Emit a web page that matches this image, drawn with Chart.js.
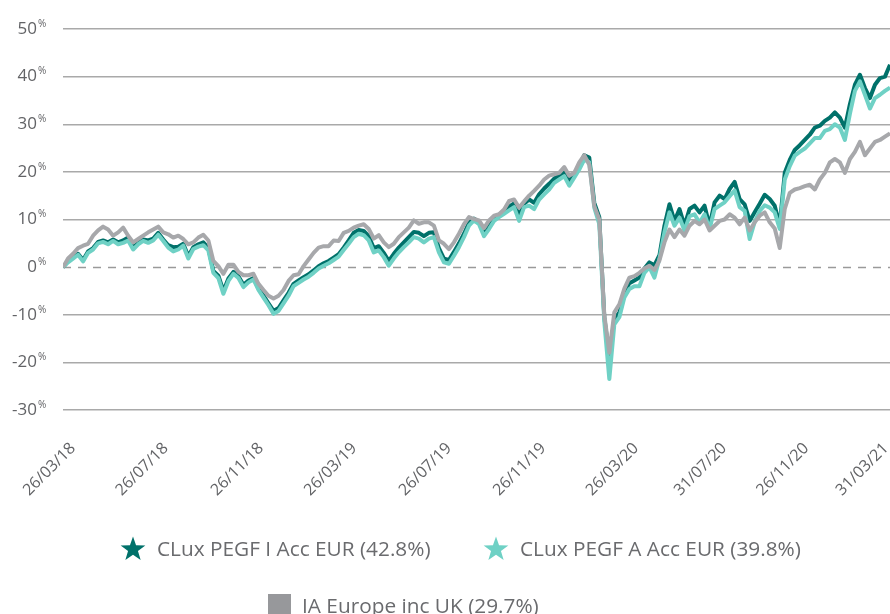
<!DOCTYPE html>
<html><head><meta charset="utf-8">
<script src="https://cdn.jsdelivr.net/npm/chart.js@4.4.1/dist/chart.umd.min.js"></script>
<style>
html,body{margin:0;padding:0;background:#fff;overflow:hidden;width:890px;height:614px;}
#wrap{position:relative;width:890px;height:624px;}
#legend{position:absolute;left:0;top:0;width:890px;height:624px;pointer-events:none;font-family:'Open Sans',sans-serif;}
.li{position:absolute;display:flex;align-items:center;white-space:nowrap;color:#6a6b6e;font-size:20.8px;font-weight:400;height:30px;}
.mk{display:inline-block;margin-right:11px;}
</style></head><body>
<div id="wrap"><canvas id="c" width="890" height="624"></canvas><div id="legend"></div></div>
<script>
// ---- data ----
const seriesNames = ['CLux PEGF I Acc EUR (42.8%)', 'CLux PEGF A Acc EUR (39.8%)', 'IA Europe inc UK (29.7%)'];
const tickLabels = ['26/03/18','26/07/18','26/11/18','26/03/19','26/07/19','26/11/19','26/03/20','31/07/20','26/11/20','31/03/21'];
const tickPositions = [2.0, 20.5, 39.5, 58.1, 77.0, 95.8, 114.3, 131.9, 148.3, 164.2];
const yTicks = [-30, -20, -10, 0, 10, 20, 30, 40, 50];

const clxI = [0,1.2,2.0,2.8,1.5,3.3,4.0,5.3,5.6,5.2,5.8,5.2,5.6,6.2,4.0,5.2,5.8,5.6,6.0,7.2,
5.8,4.6,4.2,4.3,4.9,2.3,4.2,4.8,5.2,4.0,-0.8,-1.8,-5.0,-2.4,-1.0,-1.9,-3.7,-2.8,-2.3,-4.4,
-6.0,-7.6,-9.2,-8.6,-7.0,-5.4,-3.5,-2.8,-2.1,-1.5,-0.7,0.2,0.8,1.3,2.0,2.7,4.1,5.6,7.2,7.8,
7.6,6.5,4.0,4.4,3.0,1.3,2.8,4.1,5.2,6.3,7.4,7.2,6.5,7.2,7.3,4.0,1.8,1.5,3.2,5.0,
7.0,9.3,10.2,9.5,7.2,8.6,10.3,11.0,11.8,12.7,13.4,10.8,13.3,14.2,13.5,15.3,16.5,17.5,18.6,19.2,
19.8,18.0,19.5,21.3,23.5,23.0,13.5,10.5,-10.5,-19.0,-11.0,-9.5,-5.2,-3.4,-2.8,-2.2,-0.3,1.0,0.4,2.5,
8.7,13.2,9.7,12.2,8.7,12.2,12.9,11.5,12.9,8.7,13.6,15.0,14.3,16.4,17.9,14.3,13.2,9.7,11.5,13.3,
15.2,14.3,12.9,8.8,19.8,22.5,24.6,25.6,26.7,27.8,29.3,29.7,30.7,31.4,32.5,31.4,29.3,34.2,38.3,40.4,
37.6,35.5,38.3,39.7,40.0,42.5];
const clxA = [0,1.0,1.8,2.6,1.2,3.0,3.7,5.0,5.3,4.8,5.5,4.8,5.1,5.6,3.7,4.8,5.5,5.1,5.6,6.8,
5.5,4.1,3.3,3.7,4.5,1.8,3.8,4.3,4.6,3.5,-1.2,-2.3,-5.6,-2.9,-1.4,-2.3,-4.2,-3.2,-2.6,-4.8,
-6.4,-8.0,-9.8,-9.2,-7.6,-6.0,-4.0,-3.3,-2.6,-2.0,-1.2,-0.3,0.3,0.8,1.5,2.2,3.6,4.9,6.3,7.0,
6.7,5.6,3.1,3.5,2.1,0.3,1.8,3.1,4.2,5.2,6.3,6.0,5.2,6.0,6.3,3.1,1.0,0.7,2.4,4.2,
6.3,8.7,9.8,9.0,6.5,8.0,9.7,10.5,11.2,11.9,12.6,9.7,12.6,12.9,12.2,14.2,15.3,16.3,17.7,18.4,
19.1,17.1,18.8,20.5,22.6,22.0,12.5,9.0,-11.5,-23.5,-12.0,-10.5,-6.4,-4.6,-4.0,-4.0,-1.2,0.0,-2.2,1.8,
7.3,11.5,8.7,10.4,7.7,10.7,11.1,9.3,11.1,8.0,12.2,12.9,13.6,14.9,16.1,12.6,11.8,5.9,9.5,11.8,
13.0,12.5,11.5,8.0,18.4,21.2,23.4,24.2,24.9,26.0,27.1,27.1,28.6,29.0,30.0,29.3,26.7,32.2,37.0,39.0,
36.2,33.3,35.5,36.2,37.0,37.7];
const iaEurope = [0,1.8,2.8,4.0,4.5,4.9,6.6,7.7,8.5,7.9,6.6,7.3,8.3,6.6,5.2,5.9,6.6,7.3,7.9,8.5,
7.3,6.9,6.2,6.6,5.9,4.8,5.2,6.2,6.8,5.6,1.3,0.2,-1.4,0.5,0.5,-1.0,-1.7,-1.7,-1.4,-3.5,
-4.8,-6.0,-6.6,-6.0,-4.8,-2.9,-1.7,-1.5,0.2,1.6,3.0,4.1,4.4,4.4,5.6,5.5,7.2,7.6,8.3,8.7,
9.0,8.0,6.0,6.7,5.2,4.2,4.9,6.3,7.3,8.3,9.8,9.1,9.4,9.4,8.7,5.6,4.9,3.8,5.2,7.0,
9.0,10.5,10.1,9.8,8.2,9.8,10.8,11.1,12.1,13.9,14.2,12.5,13.8,15.0,16.0,17.1,18.4,19.2,19.5,19.8,
21.0,19.2,19.8,22.0,23.5,21.5,12.8,10.0,-10.0,-18.0,-9.5,-7.8,-4.5,-2.2,-1.9,-1.2,-0.3,0.3,-0.6,1.4,
5.2,7.9,6.3,7.9,6.6,8.7,9.7,9.0,10.0,7.7,8.7,9.7,10.0,11.1,10.4,9.0,10.4,7.7,9.4,10.8,
11.5,9.4,8.1,4.0,12.2,15.6,16.3,16.6,17.0,17.3,16.3,18.4,19.8,22.0,22.7,22.0,19.8,22.7,24.2,26.3,
23.5,24.9,26.3,26.7,27.4,28.1];

// ---- styles ----
const colors = ['#00716a', '#6fd1c5', '#a7a8ab'];
const textColor = '#626366';

const toPts = arr => arr.map((v, i) => ({x: i, y: v}));

const pctPlugin = {
  id: 'pct',
  afterDraw(chart) {
    const s = chart.scales.y, ctx = chart.ctx;
    ctx.save();
    ctx.font = '10px "Open Sans"';
    ctx.fillStyle = textColor;
    ctx.textAlign = 'left';
    ctx.textBaseline = 'middle';
    s.ticks.forEach(t => {
      const y = s.getPixelForValue(t.value);
      ctx.fillText('%', s.right - 25, y - 5);
    });
    ctx.restore();
  }
};
const zeroPlugin = {
  id: 'zero',
  beforeDatasetsDraw(chart) {
    const s = chart.scales.y, a = chart.chartArea, ctx = chart.ctx;
    const y = Math.round(s.getPixelForValue(0)) + 0.5;
    ctx.save();
    ctx.strokeStyle = '#9a9a9a';
    ctx.lineWidth = 1.3;
    ctx.setLineDash([8, 7]);
    ctx.beginPath(); ctx.moveTo(a.left, y); ctx.lineTo(a.right, y); ctx.stroke();
    ctx.restore();
  }
};

const order = [3, 2, 1];
const chart = new Chart(document.getElementById('c'), {
  type: 'line',
  data: {
    datasets: [clxI, clxA, iaEurope].map((arr, k) => ({
      label: seriesNames[k],
      data: toPts(arr),
      borderColor: colors[k],
      backgroundColor: colors[k],
      borderWidth: 4,
      borderJoinStyle: 'round',
      pointRadius: 0,
      tension: 0,
      order: order[k]
    }))
  },
  options: {
    responsive: false,
    animation: false,
    devicePixelRatio: 1,
    layout: {padding: {top: 29, right: 0, bottom: 0, left: 0}},
    plugins: {legend: {display: false}, tooltip: {enabled: false}},
    scales: {
      x: {
        type: 'linear', min: 0, max: clxI.length - 1,
        grid: {display: false}, border: {display: false},
        afterBuildTicks: s => { s.ticks = tickPositions.map(v => ({value: v})); },
        afterFit: s => { s.height = 624 - 410; s.paddingRight = 0; s.paddingLeft = 0; s.paddingTop = 0; },
        ticks: {
          autoSkip: false, minRotation: 45, maxRotation: 45, padding: 21,
          color: textColor, font: {family: 'Open Sans', size: 16},
          callback: (v, i) => tickLabels[i]
        }
      },
      y: {
        min: -30, max: 50,
        afterBuildTicks: s => { s.ticks = yTicks.map(v => ({value: v})); },
        afterFit: s => { s.width = 63; s.paddingTop = 0; s.paddingBottom = 0; },
        border: {display: false},
        grid: {
          drawTicks: false, lineWidth: 1.5,
          color: c => (c.tick && c.tick.value === 0) ? 'rgba(0,0,0,0)' : '#a9a9a9'
        },
        ticks: {
          padding: 26, color: textColor, font: {family: 'Open Sans', size: 17},
          callback: v => String(v)
        }
      }
    }
  },
  plugins: [pctPlugin, zeroPlugin]
});

// ---- HTML legend built from the datasets ----
const legendSlots = [{left: 120, cy: 548}, {left: 483, cy: 548}, {left: 268, cy: 605}];
const markers = ['star', 'star', 'square'];
const leg = document.getElementById('legend');
chart.data.datasets.forEach((ds, k) => {
  const item = document.createElement('div');
  item.className = 'li';
  item.style.left = legendSlots[k].left + 'px';
  item.style.top = (legendSlots[k].cy - 15) + 'px';
  const mk = document.createElementNS('http://www.w3.org/2000/svg', 'svg');
  mk.setAttribute('class', 'mk');
  if (markers[k] === 'star') {
    mk.setAttribute('width', '26'); mk.setAttribute('height', '25'); mk.setAttribute('viewBox', '0 0 26 25');
    const p = document.createElementNS('http://www.w3.org/2000/svg', 'polygon');
    const pts = [];
    for (let j = 0; j < 10; j++) {
      const r = j % 2 ? 5.2 : 13, a = -Math.PI / 2 + j * Math.PI / 5;
      pts.push((13 + r * Math.cos(a)).toFixed(2) + ',' + (13.5 + r * Math.sin(a)).toFixed(2));
    }
    p.setAttribute('points', pts.join(' '));
    p.setAttribute('fill', ds.borderColor);
    mk.appendChild(p);
  } else {
    mk.setAttribute('width', '23'); mk.setAttribute('height', '22');
    const r = document.createElementNS('http://www.w3.org/2000/svg', 'rect');
    r.setAttribute('width', '23'); r.setAttribute('height', '22'); r.setAttribute('fill', '#97989b');
    mk.appendChild(r);
  }
  item.appendChild(mk);
  const t = document.createElement('span');
  t.textContent = ds.label;
  item.appendChild(t);
  leg.appendChild(item);
});
</script>
</body></html>
